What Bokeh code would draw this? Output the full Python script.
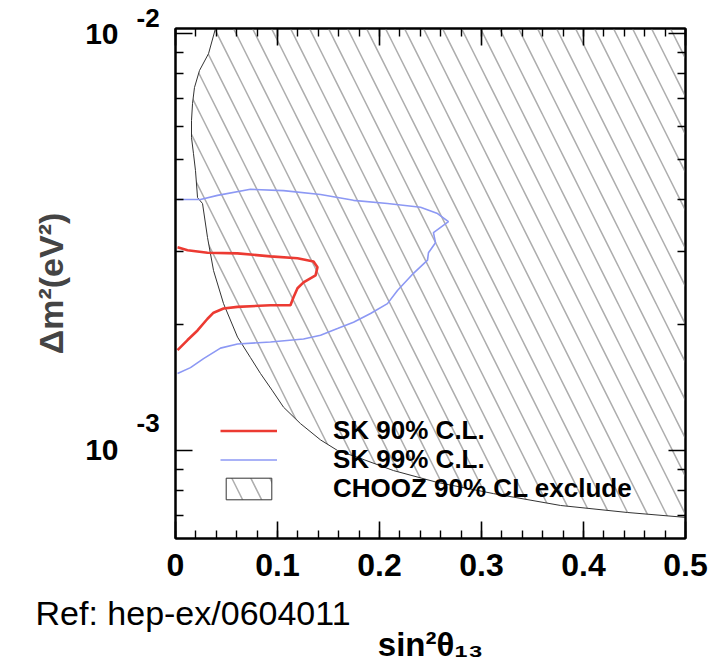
from bokeh.plotting import figure
from bokeh.models import (LinearAxis, LogAxis, FixedTicker, SingleIntervalTicker,
                          CustomJSTickFormatter, Label, Legend, LegendItem)
from bokeh.embed import file_html
from bokeh.resources import INLINE

# ---------------- data ----------------
x_ticks = [0.0, 0.1, 0.2, 0.3, 0.4, 0.5]
x_tick_labels = ["0", "0.1", "0.2", "0.3", "0.4", "0.5"]
y_major = [1e-3, 1e-2]
y_exponents = ["-3", "-2"]
y_minor = [7e-4, 8e-4, 9e-4, 2e-3, 3e-3, 4e-3, 5e-3, 6e-3, 7e-3, 8e-3, 9e-3]

X_MIN, X_MAX = 0.0, 0.5
Y_MIN, Y_MAX = 6.15e-4, 1.028e-2

REF_TEXT = "Ref: hep-ex/0604011"
REF_X = 0.0172   # where the reference note is centred along the x axis

legend_labels = ["SK 90% C.L.", "SK 99% C.L.", "CHOOZ 90% CL exclude"]

# CHOOZ 90% CL exclusion boundary (excluded region is to the right)
chooz_x = [0.0392, 0.0324, 0.0235, 0.0186, 0.0167, 0.0157, 0.0157, 0.0176, 0.0196,
           0.0216, 0.0265, 0.0314, 0.0373, 0.0471, 0.0608, 0.0735, 0.0833, 0.0951,
           0.1059, 0.1225, 0.1422, 0.1588, 0.1814, 0.2137, 0.2569, 0.3118, 0.3775,
           0.4431, 0.5]
chooz_y = [0.01028, 0.00895, 0.00815, 0.00742, 0.00680, 0.00619, 0.00563, 0.00516,
           0.00469, 0.00404, 0.00391, 0.00324, 0.00270, 0.00225, 0.00187, 0.00167,
           0.00153, 0.00139, 0.00127, 0.00116, 0.00106, 0.00100, 0.000957, 0.000895,
           0.000838, 0.000788, 0.000738, 0.000710, 0.000691]

# SK 90% C.L. contour
sk90_x = [0.002, 0.0118, 0.0314, 0.0608, 0.0931, 0.1196, 0.1353, 0.1392, 0.1373,
          0.1255, 0.1196, 0.1157, 0.1127, 0.0931, 0.0608, 0.0471, 0.0373, 0.0314,
          0.0216, 0.0118, 0.002]
sk90_y = [0.00307, 0.00302, 0.00298, 0.00297, 0.00292, 0.00289, 0.00284, 0.00275,
          0.00263, 0.00253, 0.00245, 0.00233, 0.00223, 0.00223, 0.00221, 0.00219,
          0.00214, 0.00207, 0.00194, 0.00184, 0.00174]

# SK 99% C.L. contour
sk99_x = [0.002, 0.0245, 0.0412, 0.0735, 0.1059, 0.1422, 0.1745, 0.2078, 0.2402,
          0.2569, 0.2676, 0.2529, 0.2549, 0.2480, 0.2471, 0.2333, 0.2176, 0.2078,
          0.1912, 0.1745, 0.1588, 0.1422, 0.1255, 0.0931, 0.0608, 0.0441, 0.0275,
          0.0147, 0.002]
sk99_y = [0.00400, 0.00400, 0.00409, 0.00423, 0.00420, 0.00411, 0.00398, 0.00391,
          0.00383, 0.00370, 0.00354, 0.00333, 0.00315, 0.00298, 0.00286, 0.00266,
          0.00242, 0.00225, 0.00213, 0.00203, 0.00196, 0.00189, 0.00185, 0.00182,
          0.00180, 0.00176, 0.00166, 0.00158, 0.00153]

FONT = "Liberation Sans"

# ---------------- figure ----------------
p = figure(width=719, height=669, x_range=(X_MIN, X_MAX), y_range=(Y_MIN, Y_MAX),
           y_axis_type="log", output_backend="svg", toolbar_location=None,
           min_border_left=175, min_border_right=34, min_border_top=28,
           min_border_bottom=131, background_fill_color="white",
           border_fill_color="white")
p.grid.visible = False
p.outline_line_color = "black"
p.outline_line_width = 2

# hatched CHOOZ excluded region (outline = the CHOOZ curve)
px_ = chooz_x + [X_MAX, chooz_x[0]]
py_ = chooz_y + [Y_MAX, Y_MAX]
chooz = p.patch(px_, py_, fill_color=None, hatch_pattern="\\", hatch_color="#adadad",
                hatch_scale=38, hatch_weight=1.5, line_color="#333333", line_width=1)

sk99 = p.line(sk99_x, sk99_y, line_color="#8c98f4", line_width=1.6)
sk90 = p.line(sk90_x, sk90_y, line_color="#ec3a32", line_width=2.6)

# ---------------- axes ----------------
xt = SingleIntervalTicker(interval=0.1, num_minor_ticks=5)
yt = FixedTicker(ticks=y_major, minor_ticks=y_minor)

def style(ax, labels=True):
    ax.axis_line_width = 2
    ax.major_tick_in = 17
    ax.major_tick_out = 0
    ax.minor_tick_in = 8
    ax.minor_tick_out = 0
    ax.major_tick_line_width = 1.6
    ax.minor_tick_line_width = 1.4
    ax.major_label_text_font = FONT
    ax.major_label_text_font_style = "bold"
    ax.major_label_text_color = "black"
    if not labels:
        ax.formatter = CustomJSTickFormatter(code="return ''")

xa = p.xaxis[0]
xa.ticker = xt
style(xa)
xa.major_label_overrides = {t: s for t, s in zip(x_ticks, x_tick_labels)}
xa.major_label_text_font_size = "32px"
xa.major_label_standoff = 15

ya = p.yaxis[0]
ya.ticker = yt
style(ya)
ya.formatter = CustomJSTickFormatter(code="return '10'")
ya.major_label_text_font_size = "30px"
ya.major_label_standoff = 57
ya.axis_label = "Δm²(eV²)"
ya.axis_label_text_font = FONT
ya.axis_label_text_font_style = "bold"
ya.axis_label_text_font_size = "34px"
ya.axis_label_standoff = 12

top = LinearAxis(ticker=xt)
style(top, labels=False)
p.add_layout(top, "above")
right = LogAxis(ticker=yt)
style(right, labels=False)
p.add_layout(right, "right")

# second (outer) x axis: carries the reference note and the x-axis title
ref_axis = LinearAxis(ticker=FixedTicker(ticks=[REF_X], minor_ticks=[]),
                      formatter=CustomJSTickFormatter(args=dict(t=REF_TEXT), code="return t"),
                      axis_line_color=None, major_tick_line_color=None,
                      minor_tick_line_color=None, major_label_standoff=9,
                      major_label_text_font=FONT, major_label_text_font_size="34px",
                      major_label_text_font_style="normal", major_label_text_color="black",
                      axis_label="sin²θ₁₃", axis_label_text_font=FONT,
                      axis_label_text_font_style="bold", axis_label_text_font_size="33px",
                      axis_label_text_color="black", axis_label_standoff=-9)
p.add_layout(ref_axis, "below")

# exponents of the y tick labels (ROOT style), placed in side panels so they are not clipped
for t, e, side, dy in zip(y_major, y_exponents, ["left", "right"], [27, 16]):
    p.add_layout(Label(x=X_MIN, y=t, x_offset=-39, y_offset=dy, text=e,
                       text_font=FONT, text_font_style="bold", text_font_size="26px",
                       text_baseline="middle", text_align="left", text_color="black"),
                 side)

# ---------------- legend (one entry per row, ROOT-like tight spacing) ----------------
for label, rend, ly in zip(legend_labels, [sk90, sk99, chooz], [92, 63, 34]):
    lg = Legend(items=[LegendItem(label=label, renderers=[rend])],
                location=(45, ly), background_fill_alpha=0, border_line_alpha=0,
                padding=0, margin=0, spacing=0, glyph_width=57, glyph_height=27,
                label_height=27, label_standoff=56, label_text_font=FONT,
                label_text_font_style="bold", label_text_font_size="26px",
                label_text_color="black")
    p.add_layout(lg, "center")

open("out.html", "w").write(file_html(p, INLINE))
